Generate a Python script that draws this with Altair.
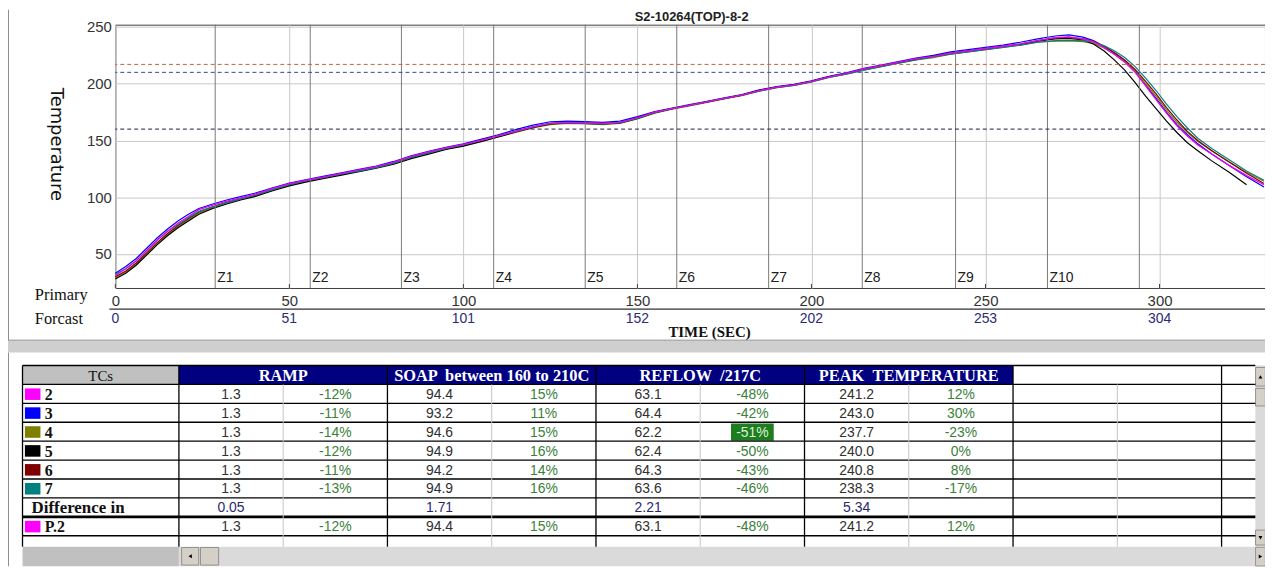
import altair as alt
import pandas as pd

# ---------------------------------------------------------------- data
TITLE = "S2-10264(TOP)-8-2"

TIME = [0, 3, 6, 9, 12, 15, 18, 21, 24,
        28, 32, 36, 40,
        45, 50, 55, 60, 65, 70, 75, 80, 85, 90,
        95, 100, 105, 110, 115, 120, 125, 130, 135, 140,
        145, 150, 155, 160, 165, 170, 175, 180, 185, 190,
        195, 200, 205, 210, 215, 220, 225, 230, 235, 240,
        245, 250, 255, 260, 265, 270,
        274, 278, 281, 284, 287, 290, 293, 296, 299, 302, 305, 308, 311,
        315, 320, 325, 330]

T2 = [31, 37, 44, 53, 62, 70, 77, 83, 89,
      93, 96.5, 99.5, 102.5,
      107.5, 112, 115, 118, 121, 124, 127, 131, 136, 140,
      143.5, 146.5, 150, 154, 158, 162, 165, 166, 165.5, 165,
      166, 170, 175, 178, 181, 184, 187, 190, 194, 197,
      199, 202, 206, 209, 213, 216, 219, 222, 224, 227,
      229, 231, 233, 235, 238, 240.5,
      241.2, 239.5, 237, 232, 226, 219, 210, 198, 186, 174, 163, 154, 146,
      138, 128, 119, 111]

T3 = [33, 39, 46, 55, 64, 72, 79, 85, 90,
      94, 97.5, 100.5, 103.5,
      108, 112.5, 115.5, 118.5, 121.5, 124.5, 127.5, 131.5, 136.5, 140.5,
      144, 147, 151, 155, 159.5, 163.5, 166.5, 167, 166.5, 166,
      167, 171, 175.5, 178.5, 181.5, 184.5, 187.5, 190.5, 194.5, 197.5,
      199.5, 202.5, 206.5, 209.5, 213.5, 216.5, 219.5, 222.5, 225, 228,
      230, 232, 234, 236.5, 239.5, 242,
      243, 241, 238, 233, 227, 220, 211, 199, 187, 175, 164, 155, 147,
      138, 128, 118, 109]

T4 = [29, 34, 41, 50, 59, 67, 74, 80, 86,
      90.5, 94.5, 98, 101,
      106, 110.5, 114, 117, 120, 123, 126, 129.5, 134.5, 138.5,
      142.5, 145.5, 149, 153, 157, 161, 164, 165, 164.5, 164,
      165, 169, 174, 177.5, 180.5, 183.5, 186.5, 189.5, 193.5, 196.5,
      198.5, 201.5, 205.5, 208.5, 212, 215, 218, 221, 223, 226,
      228, 230, 232, 234, 236.5, 237.5,
      237.7, 237, 235.5, 231.5, 226, 219.5, 211, 200, 189, 177, 166, 157, 149,
      141, 131, 122, 114]

T5 = [28, 33, 40, 49, 58, 66, 73, 79, 85,
      90, 94, 97.5, 100.5,
      105.5, 110, 113.5, 116.5, 119.5, 122.5, 125.5, 129, 134, 138,
      142, 145, 149, 153, 157.5, 161.5, 164.5, 165.5, 165, 164.5,
      165.5, 169.5, 174.5, 178, 181, 184, 187, 190, 194, 197,
      199, 202, 206, 209, 212.5, 215.5, 218.5, 221.5, 224, 226.5,
      228.5, 230.5, 232.5, 234.5, 237.5, 239.5,
      240, 238.5, 235, 229, 221, 212, 201, 189, 178, 167, 157, 148, 141,
      132, 122, 111, None]

T6 = [30, 35, 42, 51, 60, 68, 75, 81, 87,
      91.5, 95.5, 98.5, 101.5,
      106.5, 111, 114.5, 117.5, 120.5, 123.5, 126.5, 130.5, 135.5, 139.5,
      143, 146, 150, 154, 158, 162, 165, 166, 165.5, 165,
      166, 170, 175, 178, 181, 184, 187, 190, 194, 197,
      199, 202, 206, 209, 212.5, 215.5, 218.5, 221.5, 224, 227,
      229, 231, 233, 235, 238, 240.5,
      240.8, 239.5, 237.5, 233, 227.5, 221, 212.5, 202, 191, 179, 168, 158, 150,
      141, 131, 121, 112]

T7 = [32, 37, 44, 53, 62, 70, 76, 82, 87.5,
      91.5, 95, 98.5, 101.5,
      106.5, 111, 114.5, 117.5, 120.5, 123, 126, 130, 135, 139,
      143, 146, 150, 154, 158, 162, 165, 165.5, 165, 164.5,
      165.5, 169.5, 174.5, 178, 181, 184, 187, 190, 193.5, 196.5,
      198.5, 201.5, 205.5, 208.5, 212, 215, 218, 221, 223.5, 226,
      228, 230, 232, 234, 236.5, 238,
      238.3, 238, 236.5, 233.5, 229, 223, 215, 205, 194, 182, 171, 161, 152,
      143, 133, 123, 115]

TC_LABELS = ["2", "3", "4", "5", "6", "7"]

ZONE_TIMES = [28.7, 56.0, 82.2, 108.7, 135.0, 161.3, 187.7, 214.6, 241.4, 267.8, 294.2]
ZONE_LABELS = ["Z1", "Z2", "Z3", "Z4", "Z5", "Z6", "Z7", "Z8", "Z9", "Z10", ""]

PRIMARY_TICKS = [0, 50, 100, 150, 200, 250, 300]
FORECAST_LABELS = ["0", "51", "101", "152", "202", "253", "304"]
Y_TICKS = [50, 100, 150, 200, 250]

LIMITS = [217, 210, 160]
LIMIT_NAMES = ["reflow 217C", "soak 210C", "soak 160C"]

HEADERS = ["TCs", "RAMP", "SOAP \u00a0between 160 to 210C", "REFLOW \u00a0/217C",
           "PEAK \u00a0TEMPERATURE"]
RAMP = ["1.3", "1.3", "1.3", "1.3", "1.3", "1.3"]
RAMP_PCT = ["-12%", "-11%", "-14%", "-12%", "-11%", "-13%"]
SOAK = ["94.4", "93.2", "94.6", "94.9", "94.2", "94.9"]
SOAK_PCT = ["15%", "11%", "15%", "16%", "14%", "16%"]
REFLOW = ["63.1", "64.4", "62.2", "62.4", "64.3", "63.6"]
REFLOW_PCT = ["-48%", "-42%", "-51%", "-50%", "-43%", "-46%"]
PEAK = ["241.2", "243.0", "237.7", "240.0", "240.8", "238.3"]
PEAK_PCT = ["12%", "30%", "-23%", "0%", "8%", "-17%"]
DIFF_LABEL = "Difference in"
DIFF = ["0.05", "1.71", "2.21", "5.34"]
P_LABEL = "P.2"
P_ROW = ["1.3", "-12%", "94.4", "15%", "63.1", "-48%", "241.2", "12%"]

# ---------------------------------------------------------------- style / layout
TC_COLORS = ["#ff00ff", "#0000ff", "#808000", "#000000", "#800000", "#008080"]
LIMIT_COLORS = ["#c0643c", "#2b4aa0", "#1e1e46"]
HIGHLIGHT = ("4", 5)   # TC "4", REFLOW % column

W, H = 1157, 265
SANS = "Liberation Sans"
SERIF = "Liberation Serif"


def rx(page_x):
    return page_x - 116


def ry(page_y):
    return page_y - 23


XS = alt.Scale(domain=[0, 330.3], nice=False, zero=False)
YS = alt.Scale(domain=[20, 252], nice=False, zero=False)
TX = alt.Scale(domain=[0, 11.92], range=[rx(22.6), rx(22.6 + 11.92 * 104.93)], nice=False, zero=False)
TY = alt.Scale(domain=[0, 10.61], range=[ry(366), ry(568)], nice=False, zero=False)

one = pd.DataFrame({"a": [0]})
layers = []

# ---------------------------------------------------------------- panel decoration
layers.append(alt.Chart(one).mark_rect(color="#cfcfcf").encode(
    x=alt.value(-108), x2=alt.value(W), y=alt.value(ry(341)), y2=alt.value(ry(353))))
layers.append(alt.Chart(one).mark_rule(color="#8c8c8c").encode(
    x=alt.value(-108), x2=alt.value(W), y=alt.value(ry(340.5))))
layers.append(alt.Chart(one).mark_rule(color="#8c8c8c").encode(
    x=alt.value(-107.5), y=alt.value(-15), y2=alt.value(ry(340.5))))
layers.append(alt.Chart(one).mark_rule(color="#8c8c8c").encode(
    x=alt.value(-107.5), y=alt.value(ry(353)), y2=alt.value(ry(568))))

# ---------------------------------------------------------------- plot
rows = []
for tc, vals in zip(TC_LABELS, [T2, T3, T4, T5, T6, T7]):
    for t, v in zip(TIME, vals):
        rows.append({"t": t, "temp": v, "tc": tc})
curves = pd.DataFrame(rows)

x_axis = alt.Axis(values=PRIMARY_TICKS, title=None, grid=True, gridColor="#c8c8c8",
                  domain=False, ticks=False, labelPadding=6, labelFontSize=15,
                  labelFont=SANS, labelColor="#333333", labelFlush=False, format="d")
y_axis = alt.Axis(values=Y_TICKS, title="Temperature", titleAngle=90, titleX=-60, titleY=120,
                  titleFontSize=18, titleFont="DejaVu Sans", titleFontWeight="normal",
                  titleColor="#111111", titleAlign="center", titleBaseline="middle",
                  grid=True, gridColor="#c8c8c8", domain=False, ticks=False,
                  labelPadding=4, labelFontSize=15, labelFont=SANS, labelColor="#333333")

layers.append(alt.Chart(curves[curves.tc != "2"]).mark_line(strokeWidth=1.2).encode(
    x=alt.X("t:Q", scale=XS, axis=x_axis),
    y=alt.Y("temp:Q", scale=YS, axis=y_axis),
    color=alt.Color("tc:N", scale=alt.Scale(domain=TC_LABELS, range=TC_COLORS), legend=None),
))

zones = pd.DataFrame({"t": ZONE_TIMES, "label": ZONE_LABELS})
layers.append(alt.Chart(zones).mark_rule(color="#7a7a7a", strokeWidth=1).encode(
    x=alt.X("t:Q", scale=XS, axis=None)))

limits = pd.DataFrame({"temp": LIMITS, "name": LIMIT_NAMES})
layers.append(alt.Chart(limits).mark_rule(strokeDash=[4, 3], strokeWidth=1).encode(
    y=alt.Y("temp:Q", scale=YS, axis=None),
    color=alt.Color("name:N", scale=alt.Scale(domain=LIMIT_NAMES, range=LIMIT_COLORS), legend=None)))

layers.append(alt.Chart(curves[curves.tc == "2"]).mark_line(strokeWidth=1.3, color="#ee00ee").encode(
    x=alt.X("t:Q", scale=XS, axis=None),
    y=alt.Y("temp:Q", scale=YS, axis=None),
))

layers.append(alt.Chart(zones).mark_text(align="left", baseline="middle", dx=2, font=SANS,
                                         fontSize=14, color="#202020").encode(
    x=alt.X("t:Q", scale=XS, axis=None), y=alt.value(ry(278)), text="label:N"))

ticks = pd.DataFrame({"t": PRIMARY_TICKS, "f": FORECAST_LABELS})
layers.append(alt.Chart(ticks).mark_rule(color="#404040").encode(
    x=alt.X("t:Q", scale=XS, axis=None), y=alt.value(H - 4), y2=alt.value(H)))
layers.append(alt.Chart(ticks).mark_text(baseline="middle", font=SANS, fontSize=14,
                                         color="#2a2a78").encode(
    x=alt.X("t:Q", scale=XS, axis=None), y=alt.value(ry(319)), text="f:N"))

layers.append(alt.Chart(one).mark_rule(color="#303030", strokeWidth=1.2).encode(
    x=alt.value(rx(110)), x2=alt.value(W), y=alt.value(ry(309.3))))
layers.append(alt.Chart(one).mark_text(text="Primary", align="left", baseline="middle",
                                       font=SERIF, fontSize=16.5, color="#111111").encode(
    x=alt.value(rx(35)), y=alt.value(ry(295))))
layers.append(alt.Chart(one).mark_text(text="Forcast", align="left", baseline="middle",
                                       font=SERIF, fontSize=16.5, color="#111111").encode(
    x=alt.value(rx(35)), y=alt.value(ry(319))))
layers.append(alt.Chart(one).mark_text(text="TIME (SEC)", align="center", baseline="middle",
                                       font=SERIF, fontSize=15, fontWeight="bold",
                                       color="#111111").encode(
    x=alt.value(rx(714)), y=alt.value(ry(332))))
layers.append(alt.Chart(one).mark_text(text=TITLE, align="center", baseline="alphabetic",
                                       font=SANS, fontSize=13, fontWeight="bold",
                                       color="#222222").encode(
    x=alt.value(rx(696)), y=alt.value(ry(19))))

# ---------------------------------------------------------------- table
NAVY = "#000080"
rects = [
    (0, 1.5, 0, 1, "#c0c0c0"),
    (9.5, 11.824, 0, 1, "#ffffff"),
    (0, 11.824, 1, 9.575, "#ffffff"),
    (0, 1.5, 9.575, 10.61, "#c0c0c0"),
    (1.5, 11.824, 9.575, 10.61, "#dadada"),
    (11.824, 11.92, 0, 9.575, "#dadada"),
]
for i in range(4):
    rects.append((1.5 + 2 * i, 3.5 + 2 * i, 0, 1, NAVY))
hl_row = TC_LABELS.index(HIGHLIGHT[0]) + 1
hl_u = 1.5 + HIGHLIGHT[1] + 0.5
rects.append((hl_u - 0.205, hl_u + 0.205, hl_row + 0.06, hl_row + 0.98, "#1e7d1e"))
sq_rows = list(range(1, 7)) + [8]
sq_cols = TC_COLORS + [TC_COLORS[0]]
for r, c in zip(sq_rows, sq_cols):
    rects.append((0.023, 0.172, r + 0.21, r + 0.82, c))
rect_df = pd.DataFrame(rects, columns=["u", "u2", "r", "r2", "fill"])
layers.append(alt.Chart(rect_df).mark_rect().encode(
    x=alt.X("u:Q", scale=TX, axis=None), x2="u2:Q",
    y=alt.Y("r:Q", scale=TY, axis=None), y2="r2:Q",
    color=alt.Color("fill:N", scale=None)))

buttons = pd.DataFrame([
    (1.526, 1.69, 9.62, 10.55), (1.707, 1.881, 9.62, 10.55),
    (11.826, 11.92, 0.105, 1.087), (11.826, 11.92, 1.21, 2.14),
    (11.826, 11.92, 8.70, 9.49), (11.826, 11.92, 9.61, 10.6),
], columns=["u", "u2", "r", "r2"])
layers.append(alt.Chart(buttons).mark_rect(color="#d4d0c8", stroke="#808080", strokeWidth=0.8).encode(
    x=alt.X("u:Q", scale=TX, axis=None), x2="u2:Q",
    y=alt.Y("r:Q", scale=TY, axis=None), y2="r2:Q"))

arrows = pd.DataFrame({"u": [1.608, 11.873, 11.873, 11.873],
                       "r": [10.085, 0.6, 9.1, 10.1],
                       "shape": ["triangle-left", "triangle-up", "triangle-down", "triangle-right"]})
layers.append(alt.Chart(arrows).mark_point(filled=True, color="#000000", size=16, opacity=1).encode(
    x=alt.X("u:Q", scale=TX, axis=None), y=alt.Y("r:Q", scale=TY, axis=None),
    shape=alt.Shape("shape:N", scale=None)))

lines = []
for r in range(0, 10):
    lines.append((0, 11.824, r, r, "#000000", 2.6 if r == 8 else 1.3))
for u in [0, 1.5, 3.5, 5.5, 7.5, 9.5, 11.5]:
    lines.append((u, u, 0, 9.575, "#000000", 1.3))
for u in [2.5, 4.5, 6.5, 8.5, 10.5]:
    lines.append((u, u, 1, 9.575, "#c4c4c4", 1))
line_df = pd.DataFrame(lines, columns=["u", "u2", "r", "r2", "col", "w"])
layers.append(alt.Chart(line_df).mark_rule().encode(
    x=alt.X("u:Q", scale=TX, axis=None), x2="u2:Q",
    y=alt.Y("r:Q", scale=TY, axis=None), y2="r2:Q",
    color=alt.Color("col:N", scale=None),
    strokeWidth=alt.StrokeWidth("w:Q", scale=None)))

# header texts
hdr = pd.DataFrame({"u": [2.5, 4.5, 6.5, 8.5], "r": [0.5] * 4, "text": HEADERS[1:]})
layers.append(alt.Chart(hdr).mark_text(font=SERIF, fontSize=16.5, fontWeight="bold",
                                       color="#ffffff", baseline="middle", dy=1).encode(
    x=alt.X("u:Q", scale=TX, axis=None), y=alt.Y("r:Q", scale=TY, axis=None), text="text:N"))
layers.append(alt.Chart(pd.DataFrame({"u": [0.75], "r": [0.5], "text": [HEADERS[0]]})).mark_text(
    font=SERIF, fontSize=15, color="#111111", baseline="middle", dy=1).encode(
    x=alt.X("u:Q", scale=TX, axis=None), y=alt.Y("r:Q", scale=TY, axis=None), text="text:N"))

# row labels
lab = pd.DataFrame({"u": [0.2135] * 6 + [0.087, 0.2135],
                    "r": [1.5, 2.5, 3.5, 4.5, 5.5, 6.5, 7.5, 8.5],
                    "text": TC_LABELS + [DIFF_LABEL, P_LABEL],
                    "fs": [16] * 6 + [17, 16]})
layers.append(alt.Chart(lab).mark_text(font=SERIF, fontWeight="bold", align="left",
                                       baseline="middle", color="#111111", dy=1).encode(
    x=alt.X("u:Q", scale=TX, axis=None), y=alt.Y("r:Q", scale=TY, axis=None), text="text:N",
    size=alt.Size("fs:Q", scale=None)))

# values
VAL_COLS = [RAMP, RAMP_PCT, SOAK, SOAK_PCT, REFLOW, REFLOW_PCT, PEAK, PEAK_PCT]
cells = []
for i, tc in enumerate(TC_LABELS):
    for k, col in enumerate(VAL_COLS):
        kind = "pct" if k % 2 else "val"
        if (tc, k) == HIGHLIGHT:
            kind = "hl"
        cells.append({"u": 2.0 + k, "r": i + 1.5, "text": col[i], "kind": kind})
for j, v in enumerate(DIFF):
    cells.append({"u": 2.0 + 2 * j, "r": 7.5, "text": v, "kind": "diff"})
for k, v in enumerate(P_ROW):
    cells.append({"u": 2.0 + k, "r": 8.5, "text": v, "kind": "pct" if k % 2 else "val"})
cell_df = pd.DataFrame(cells)
layers.append(alt.Chart(cell_df).mark_text(font=SANS, fontSize=14, baseline="middle", dy=1).encode(
    x=alt.X("u:Q", scale=TX, axis=None), y=alt.Y("r:Q", scale=TY, axis=None), text="text:N",
    color=alt.Color("kind:N", scale=alt.Scale(domain=["val", "pct", "diff", "hl"],
                                              range=["#303030", "#3a803a", "#28286e", "#d8f2d8"]),
                    legend=None)))

chart = alt.layer(*layers).resolve_scale(
    x="independent", y="independent", color="independent", shape="independent",
    strokeWidth="independent", size="independent"
).properties(
    width=W, height=H,
    padding={"left": 108, "top": 15, "right": 0, "bottom": 280},
    autosize=alt.AutoSizeParams(type="none"),
    background="#ffffff",
).configure_view(stroke="#404040", strokeWidth=1)

chart.save("out.html", embed_options={"renderer": "svg", "actions": False})
